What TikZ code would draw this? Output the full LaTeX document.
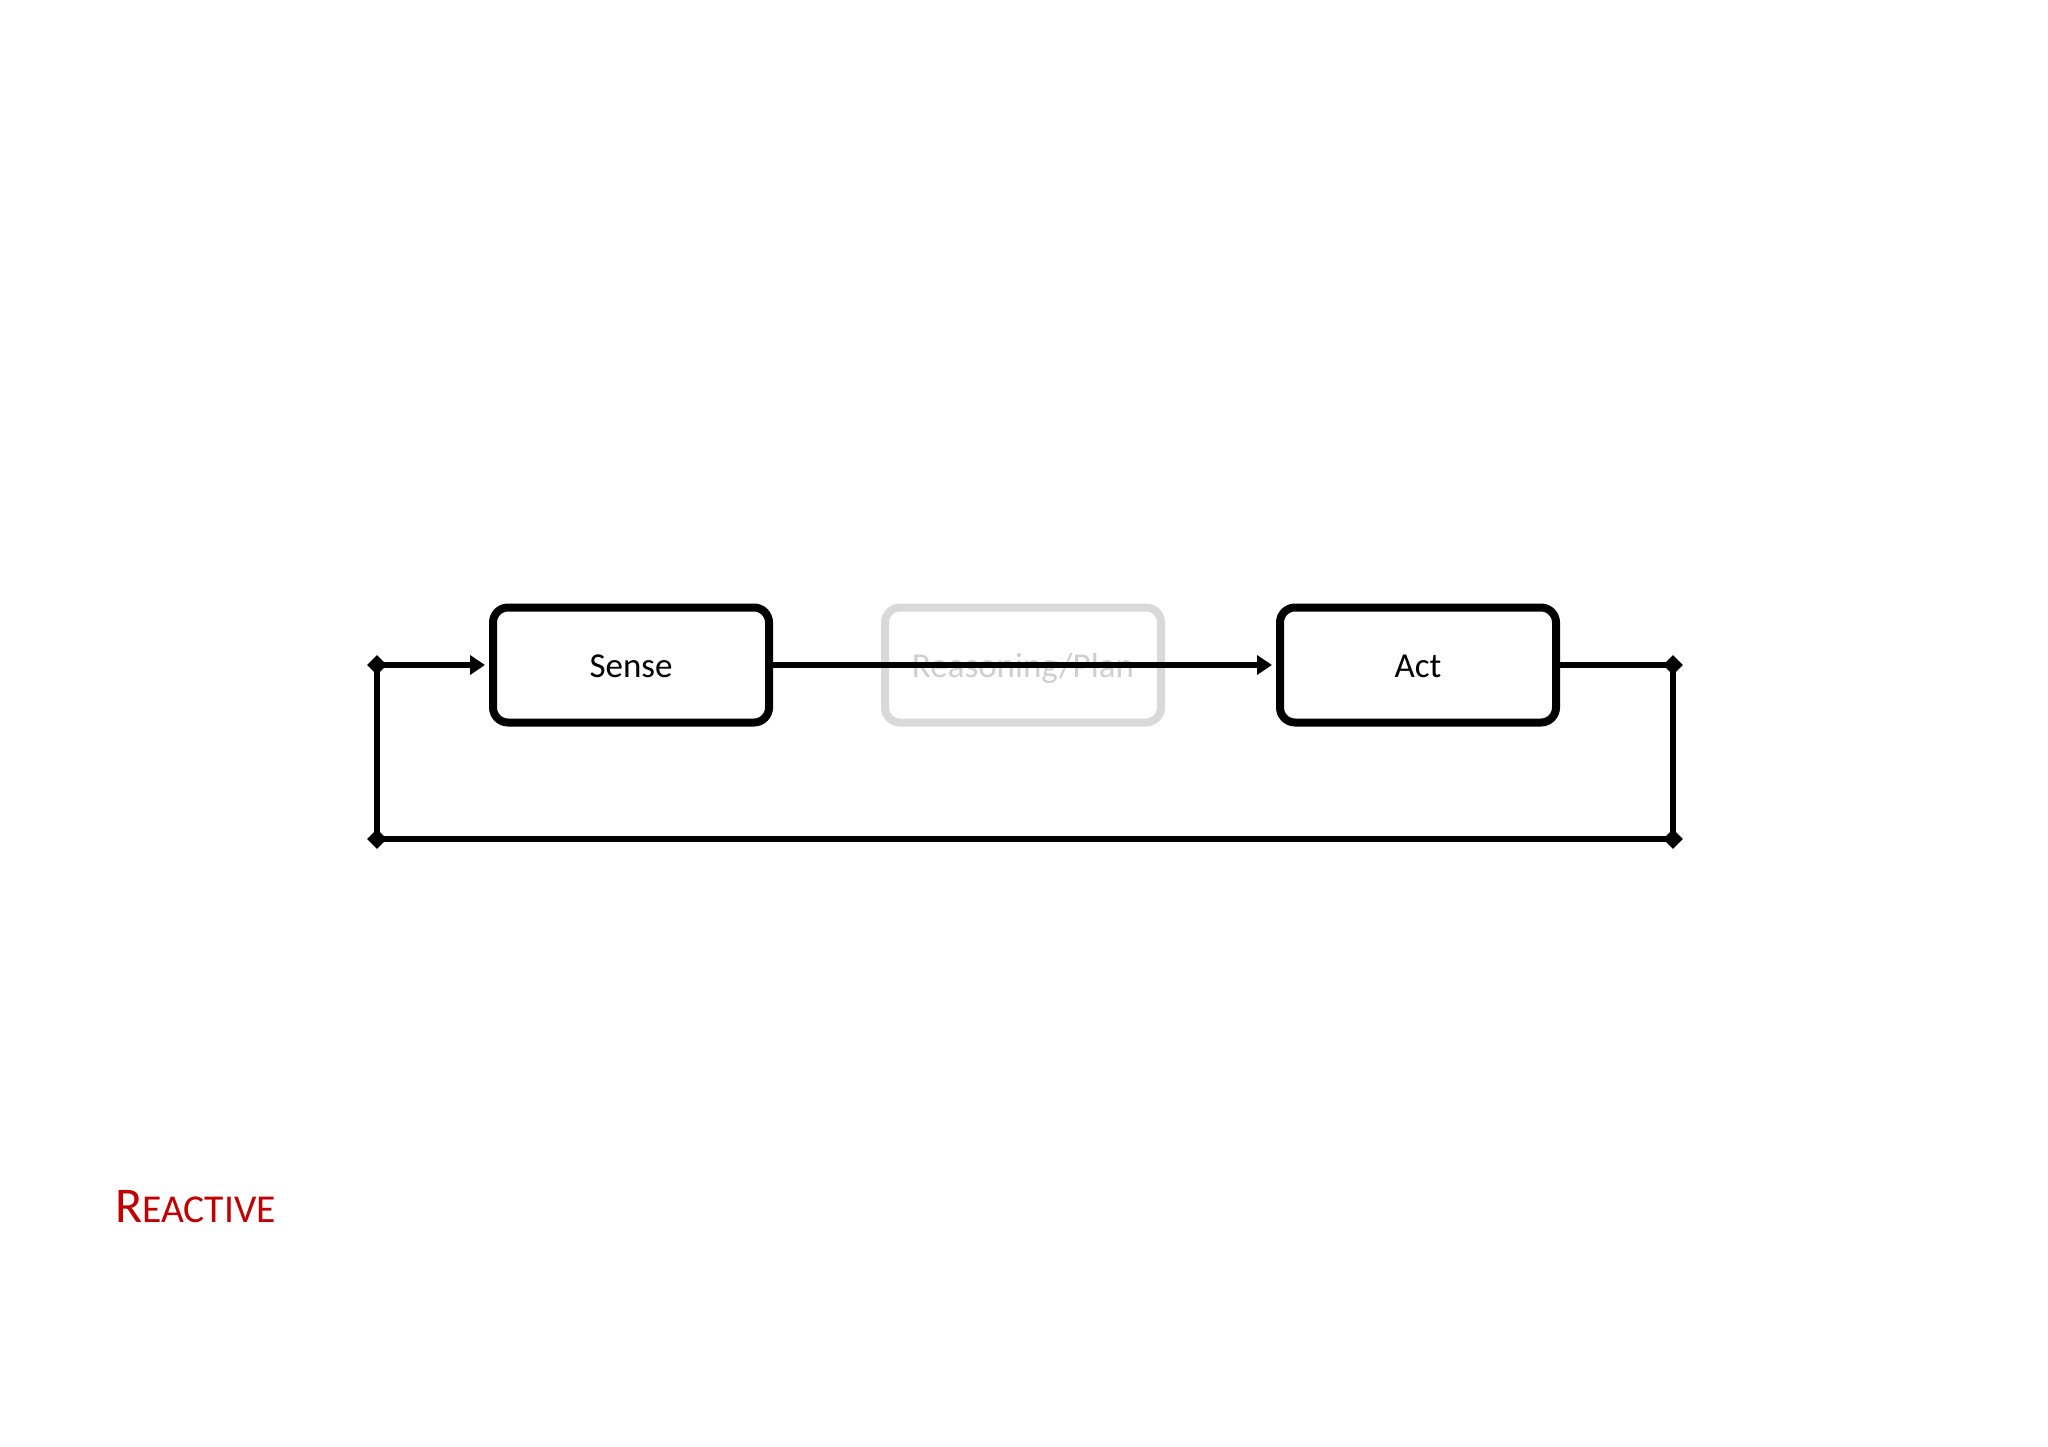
\documentclass[tikz,border=0pt]{standalone}
\usepackage{fontspec}
\setmainfont{Carlito}
\usetikzlibrary{arrows.meta,shapes.geometric}
\definecolor{titlered}{HTML}{C00000}
\definecolor{fadegray}{HTML}{D9D9D9}
\definecolor{fadetext}{HTML}{CFCFCF}
\begin{document}
\begin{tikzpicture}[x=1pt,y=-1pt,
  stagebox/.style={draw=black,line width=8pt,rounded corners=15pt,
    minimum width=276pt,minimum height=115pt,inner sep=0pt,
    text height=24pt,text depth=0pt,
    font=\fontsize{35}{42}\selectfont,fill=white},
  fadedbox/.style={stagebox,draw=fadegray,text=fadetext},
  junction/.style={diamond,fill=black,draw=none,inner sep=0pt,minimum size=20pt},
  link/.style={line width=5.5pt},
  arrowlink/.style={link,-{Triangle[length=15pt,width=19pt]},shorten >=4pt}]
\useasboundingbox (0,0) rectangle (2048,1447);
\node[stagebox] (sense) at (631,665) {Sense};
\node[fadedbox] (plan) at (1023,665) {Reasoning/Plan};
\node[stagebox] (act) at (1418,665) {Act};
\node[junction] (tl) at (377,665) {};
\node[junction] (bl) at (377,839) {};
\node[junction] (tr) at (1673,665) {};
\node[junction] (br) at (1673,839) {};
\draw[arrowlink] (sense.east) -- (act.west);
\draw[arrowlink] (tl.center) -- (sense.west);
\draw[link] (act.east) -- (tr.center);
\draw[link] (tr.center) -- (br.center);
\draw[link] (br.center) -- (bl.center);
\draw[link] (bl.center) -- (tl.center);
\node[anchor=base west,inner sep=0pt,text=titlered] (title) at (115,1222)
  {\fontsize{50}{60}\selectfont R\fontsize{39.5}{47}\selectfont EACTIVE};
\end{tikzpicture}
\end{document}
